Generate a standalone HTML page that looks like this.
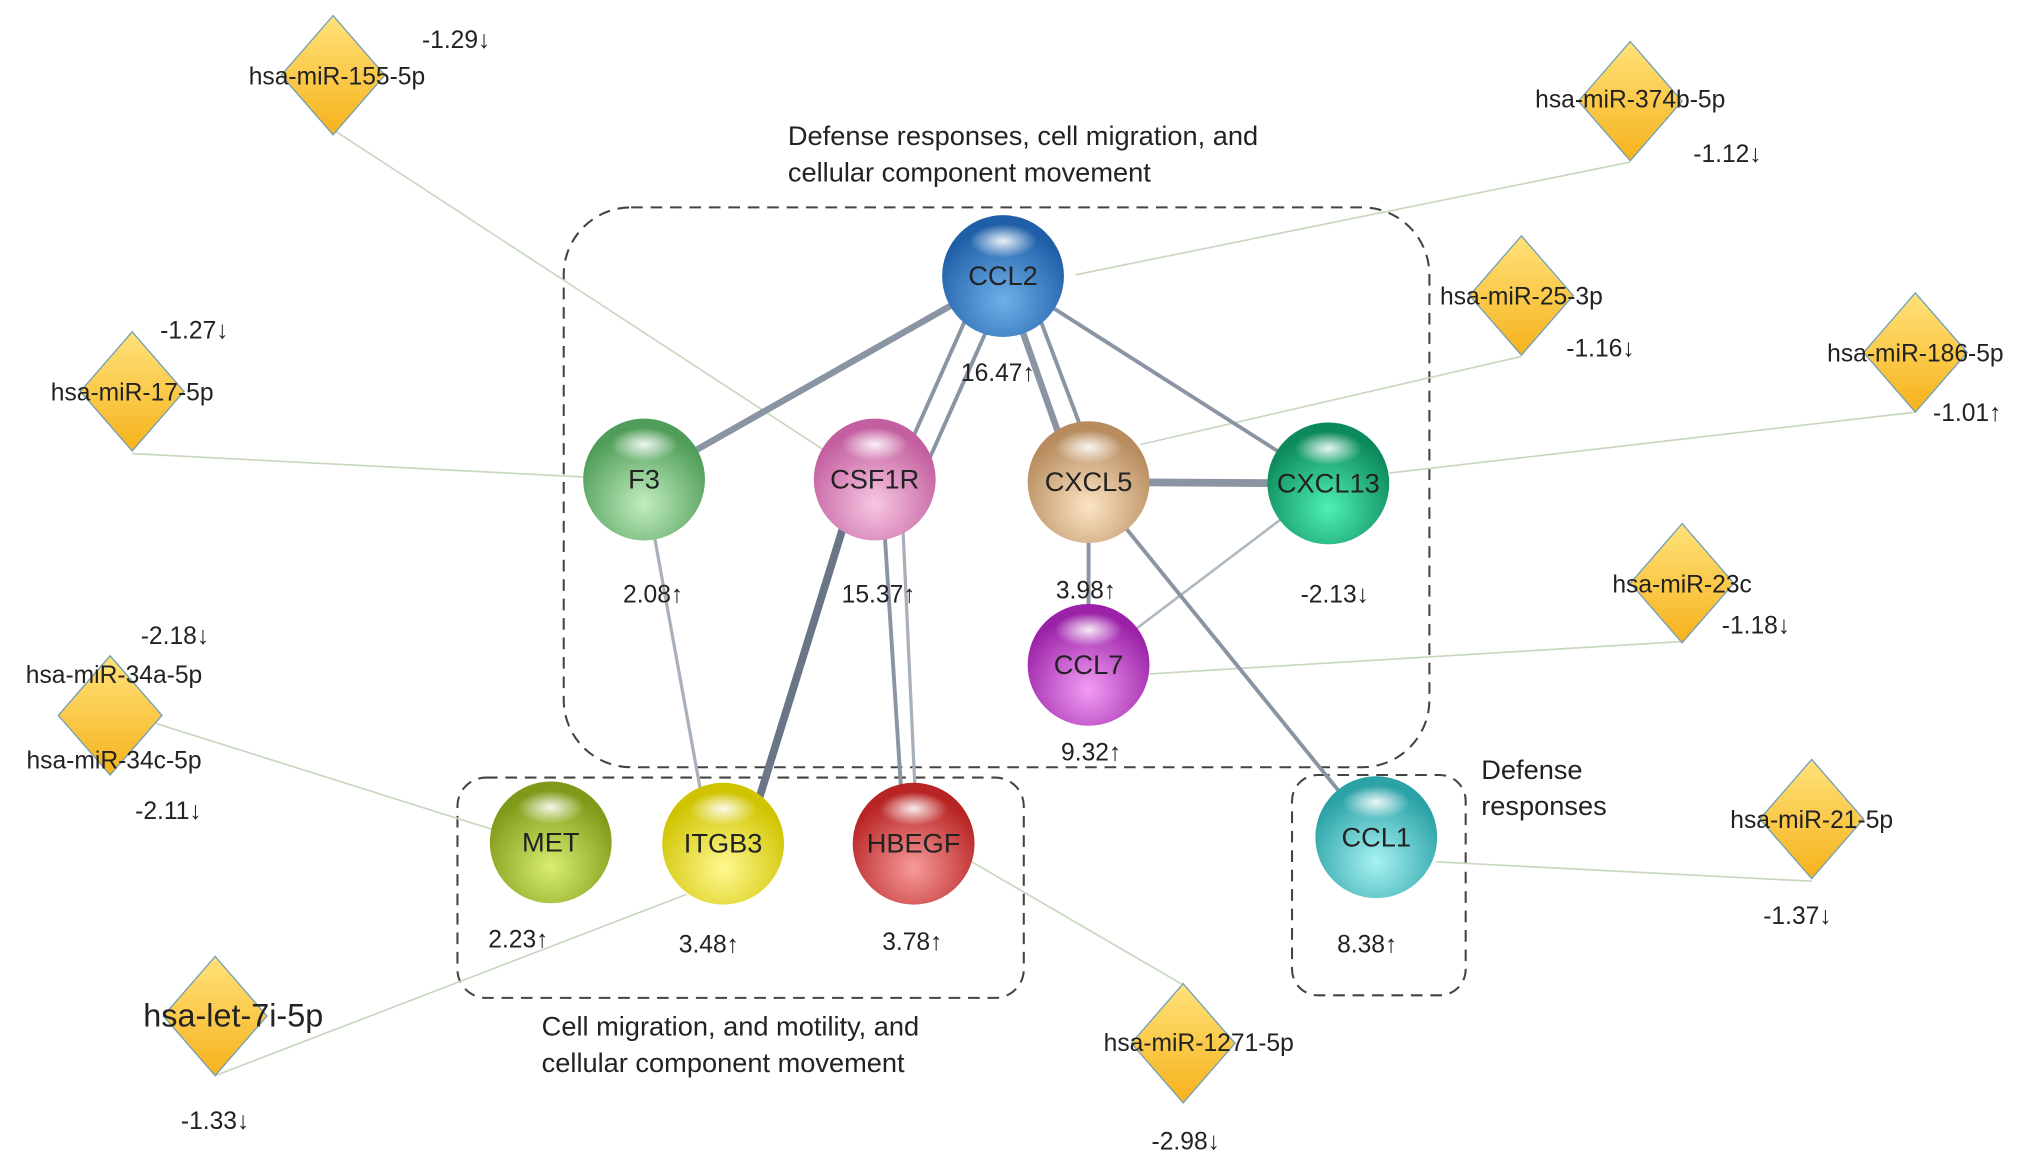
<!DOCTYPE html>
<html><head><meta charset="utf-8"><style>html,body{margin:0;padding:0;background:#fff}svg{display:block}text{font-family:"Liberation Sans",sans-serif;fill:#222}</style></head><body>
<svg width="2032" height="1169" viewBox="0 0 1568 902" xmlns="http://www.w3.org/2000/svg">
<defs>
<linearGradient id="dia" x1="0" y1="0" x2="0" y2="1"><stop offset="0" stop-color="#ffe27a"/><stop offset="1" stop-color="#f6b21c"/></linearGradient>
<radialGradient id="hl" cx="0.5" cy="0.5" r="0.5"><stop offset="0" stop-color="#fff" stop-opacity="0.9"/><stop offset="1" stop-color="#fff" stop-opacity="0"/></radialGradient>
</defs>
<g fill="none" stroke="#444" stroke-width="1.6" stroke-dasharray="9,6">
<rect x="435" y="160" width="668" height="432" rx="52"/>
<rect x="353" y="600" width="437" height="170" rx="22"/>
<rect x="997" y="598" width="134" height="170" rx="20"/>
</g>
<g stroke="#c8d8c0" stroke-width="1.3">
<line x1="257" y1="100" x2="640" y2="350"/>
<line x1="1258" y1="125" x2="830" y2="212"/>
<line x1="1174" y1="275" x2="880" y2="343"/>
<line x1="1478" y1="318" x2="1072" y2="365"/>
<line x1="102" y1="350" x2="450" y2="368"/>
<line x1="1298" y1="495" x2="887" y2="520"/>
<line x1="110" y1="555" x2="380" y2="640"/>
<line x1="1398" y1="680" x2="1108" y2="665"/>
<line x1="166" y1="830" x2="530" y2="690"/>
<line x1="913" y1="760" x2="750" y2="665"/>
</g>
<g stroke="#8a94a2" stroke-linecap="round">
<line x1="774" y1="213" x2="497" y2="370" stroke-width="5"/>
<line x1="760" y1="213" x2="690" y2="370" stroke-width="3"/>
<line x1="780" y1="213" x2="710" y2="370" stroke-width="3"/>
<line x1="774" y1="213" x2="830" y2="372" stroke-width="5"/>
<line x1="790" y1="213" x2="850" y2="372" stroke-width="3"/>
<line x1="774" y1="213" x2="1025" y2="373" stroke-width="3"/>
<line x1="840" y1="372" x2="1025" y2="373" stroke-width="6"/>
<line x1="840" y1="372" x2="840" y2="513" stroke-width="3"/>
<line x1="1025" y1="373" x2="840" y2="513" stroke-width="2" stroke="#b0b8c2"/>
<line x1="840" y1="372" x2="1062" y2="646" stroke-width="3"/>
<line x1="497" y1="370" x2="548" y2="651" stroke-width="2.5" stroke="#a8b0ba"/>
<line x1="662" y1="370" x2="575" y2="651" stroke-width="6" stroke="#6a7687"/>
<line x1="680" y1="370" x2="698" y2="651" stroke-width="3"/>
<line x1="695" y1="370" x2="708" y2="651" stroke-width="2.5" stroke="#a8b0ba"/>
</g>
<g id="nodes">
<defs>
<radialGradient id="g1" cx="0.5" cy="0.7" r="0.6"><stop offset="0" stop-color="#6fb0ea"/><stop offset="1" stop-color="#1f5fa8"/></radialGradient>
<radialGradient id="g2" cx="0.5" cy="0.7" r="0.6"><stop offset="0" stop-color="#c2edc0"/><stop offset="1" stop-color="#4f9d58"/></radialGradient>
<radialGradient id="g3" cx="0.5" cy="0.7" r="0.6"><stop offset="0" stop-color="#f8c6e2"/><stop offset="1" stop-color="#c35fa0"/></radialGradient>
<radialGradient id="g4" cx="0.5" cy="0.7" r="0.6"><stop offset="0" stop-color="#fbe4c4"/><stop offset="1" stop-color="#b88c5e"/></radialGradient>
<radialGradient id="g5" cx="0.5" cy="0.7" r="0.6"><stop offset="0" stop-color="#4ff0b4"/><stop offset="1" stop-color="#0c8a5c"/></radialGradient>
<radialGradient id="g6" cx="0.5" cy="0.7" r="0.6"><stop offset="0" stop-color="#f29cf4"/><stop offset="1" stop-color="#9b22a8"/></radialGradient>
<radialGradient id="g7" cx="0.5" cy="0.7" r="0.6"><stop offset="0" stop-color="#d8ee70"/><stop offset="1" stop-color="#7f9a18"/></radialGradient>
<radialGradient id="g8" cx="0.5" cy="0.7" r="0.6"><stop offset="0" stop-color="#fff890"/><stop offset="1" stop-color="#d0c400"/></radialGradient>
<radialGradient id="g9" cx="0.5" cy="0.7" r="0.6"><stop offset="0" stop-color="#f79a9a"/><stop offset="1" stop-color="#b82424"/></radialGradient>
<radialGradient id="g10" cx="0.5" cy="0.7" r="0.6"><stop offset="0" stop-color="#a8f2f2"/><stop offset="1" stop-color="#2aa2a6"/></radialGradient>
</defs>
<g font-size="21" text-anchor="middle">
<circle cx="774" cy="213" r="47" fill="url(#g1)"/><ellipse cx="774" cy="186" rx="26" ry="13" fill="url(#hl)"/><text x="774" y="220">CCL2</text>
<circle cx="497" cy="370" r="47" fill="url(#g2)"/><ellipse cx="497" cy="343" rx="26" ry="13" fill="url(#hl)"/><text x="497" y="377">F3</text>
<circle cx="675" cy="370" r="47" fill="url(#g3)"/><ellipse cx="675" cy="343" rx="26" ry="13" fill="url(#hl)"/><text x="675" y="377">CSF1R</text>
<circle cx="840" cy="372" r="47" fill="url(#g4)"/><ellipse cx="840" cy="345" rx="26" ry="13" fill="url(#hl)"/><text x="840" y="379">CXCL5</text>
<circle cx="1025" cy="373" r="47" fill="url(#g5)"/><ellipse cx="1025" cy="346" rx="26" ry="13" fill="url(#hl)"/><text x="1025" y="380">CXCL13</text>
<circle cx="840" cy="513" r="47" fill="url(#g6)"/><ellipse cx="840" cy="486" rx="26" ry="13" fill="url(#hl)"/><text x="840" y="520">CCL7</text>
<circle cx="425" cy="650" r="47" fill="url(#g7)"/><ellipse cx="425" cy="623" rx="26" ry="13" fill="url(#hl)"/><text x="425" y="657">MET</text>
<circle cx="558" cy="651" r="47" fill="url(#g8)"/><ellipse cx="558" cy="624" rx="26" ry="13" fill="url(#hl)"/><text x="558" y="658">ITGB3</text>
<circle cx="705" cy="651" r="47" fill="url(#g9)"/><ellipse cx="705" cy="624" rx="26" ry="13" fill="url(#hl)"/><text x="705" y="658">HBEGF</text>
<circle cx="1062" cy="646" r="47" fill="url(#g10)"/><ellipse cx="1062" cy="619" rx="26" ry="13" fill="url(#hl)"/><text x="1062" y="653">CCL1</text>
</g>
</g>
<g fill="url(#dia)" stroke="#6f9fb8" stroke-width="1">
<polygon points="257,12 297,58 257,104 217,58"/>
<polygon points="1258,32 1298,78 1258,124 1218,78"/>
<polygon points="1174,182 1214,228 1174,274 1134,228"/>
<polygon points="1478,226 1518,272 1478,318 1438,272"/>
<polygon points="102,256 142,302 102,348 62,302"/>
<polygon points="1298,404 1338,450 1298,496 1258,450"/>
<polygon points="85,506 125,552 85,598 45,552"/>
<polygon points="1398,586 1438,632 1398,678 1358,632"/>
<polygon points="166,738 206,784 166,830 126,784"/>
<polygon points="913,759 953,805 913,851 873,805"/>
</g>
<g font-size="19" text-anchor="middle">
<text x="260" y="65">hsa-miR-155-5p</text><text x="352" y="37">-1.29↓</text>
<text x="1258" y="83">hsa-miR-374b-5p</text><text x="1333" y="125">-1.12↓</text>
<text x="1174" y="235">hsa-miR-25-3p</text><text x="1235" y="275">-1.16↓</text>
<text x="1478" y="279">hsa-miR-186-5p</text><text x="1518" y="325">-1.01↑</text>
<text x="102" y="309">hsa-miR-17-5p</text><text x="150" y="261">-1.27↓</text>
<text x="1298" y="457">hsa-miR-23c</text><text x="1355" y="489">-1.18↓</text>
<text x="88" y="527">hsa-miR-34a-5p</text><text x="88" y="593">hsa-miR-34c-5p</text>
<text x="135" y="497">-2.18↓</text><text x="130" y="632">-2.11↓</text>
<text x="1398" y="639">hsa-miR-21-5p</text><text x="1387" y="713">-1.37↓</text>
<text x="180" y="792" font-size="25">hsa-let-7i-5p</text><text x="166" y="871">-1.33↓</text>
<text x="925" y="811">hsa-miR-1271-5p</text><text x="915" y="887">-2.98↓</text>
<text x="770" y="294">16.47↑</text><text x="504" y="465">2.08↑</text><text x="678" y="465">15.37↑</text>
<text x="838" y="462">3.98↑</text><text x="1030" y="465">-2.13↓</text><text x="842" y="587">9.32↑</text>
<text x="400" y="731">2.23↑</text><text x="547" y="735">3.48↑</text><text x="704" y="733">3.78↑</text><text x="1055" y="735">8.38↑</text>
</g>
<g font-size="21">
<text x="608" y="112">Defense responses, cell migration, and</text>
<text x="608" y="140">cellular component movement</text>
<text x="418" y="799">Cell migration, and motility, and</text>
<text x="418" y="827">cellular component movement</text>
<text x="1143" y="601">Defense</text>
<text x="1143" y="629">responses</text>
</g>
</svg>
</body></html>
